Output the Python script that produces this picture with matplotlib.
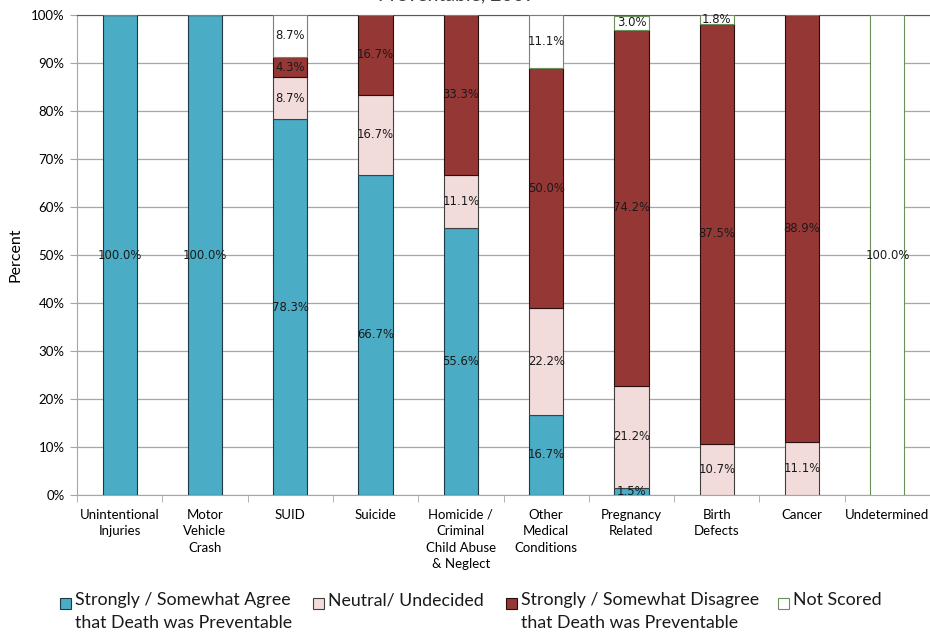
import matplotlib.pyplot as plt
import numpy as np
from matplotlib.ticker import FuncFormatter, FixedLocator
from matplotlib.patches import Rectangle

categories = ["Unintentional\nInjuries", "Motor\nVehicle\nCrash", "SUID", "Suicide",
              "Homicide /\nCriminal\nChild Abuse\n& Neglect", "Other\nMedical\nConditions",
              "Pregnancy\nRelated", "Birth\nDefects", "Cancer", "Undetermined"]
agree = [100.0, 100.0, 78.3, 66.7, 55.6, 16.7, 1.5, 0.0, 0.0, 0.0]
neutral = [0.0, 0.0, 8.7, 16.7, 11.1, 22.2, 21.2, 10.7, 11.1, 0.0]
disagree = [0.0, 0.0, 4.3, 16.7, 33.3, 50.0, 74.2, 87.5, 88.9, 0.0]
not_scored = [0.0, 0.0, 8.7, 0.0, 0.0, 11.1, 3.0, 1.8, 0.0, 100.0]

series_names = ["Strongly / Somewhat Agree\nthat Death was Preventable",
                "Neutral/ Undecided",
                "Strongly / Somewhat Disagree\nthat Death was Preventable",
                "Not Scored"]
face_colors = ["#4BACC6", "#F2DCDB", "#953735", "#FFFFFF"]
edge_colors = ["#1F3A44", "#404040", "#2A0F0F", "#6A8F5A"]

plt.rcParams['font.family'] = ['Lato', 'DejaVu Sans']

W, H = 930, 634
fig = plt.figure(figsize=(W / 100, H / 100), dpi=100)
ax = fig.add_axes([0.0828, 0.2192, 0.9172, 0.7571])

x = np.arange(len(categories))
bottom = np.zeros(len(categories))
for vals, fc, ec in zip([agree, neutral, disagree, not_scored], face_colors, edge_colors):
    vals = np.array(vals)
    ax.bar(x, vals, width=0.4, bottom=bottom, color=fc, edgecolor=ec, linewidth=0.8, zorder=3)
    for xi, b, v in zip(x, bottom, vals):
        if v > 0:
            ax.text(xi, b + v / 2, f"{v:.1f}%", ha='center', va='center', fontsize=8.4,
                    family='DejaVu Sans', color='#1a1a1a', zorder=4)
    bottom += vals

ax.set_xlim(-0.5, len(categories) - 0.5)
ax.set_ylim(0, 100)
ax.set_yticks(np.arange(0, 101, 10))
ax.yaxis.set_major_formatter(FuncFormatter(lambda v, p: f"{int(v)}%"))
ax.grid(axis='y', color='#A6A6A6', linewidth=0.9, zorder=0)
ax.set_axisbelow(True)

ax.set_xticks(x)
ax.set_xticklabels(categories, fontsize=9.5, linespacing=1.45, va='top')
ax.xaxis.set_minor_locator(FixedLocator(np.arange(-0.5, len(categories), 1.0)))
ax.tick_params(axis='x', which='major', length=0, pad=10)
ax.tick_params(axis='x', which='minor', length=5, color='#A6A6A6')
ax.tick_params(axis='y', length=5, color='#A6A6A6', labelsize=9.5, pad=4)

for s in ['left', 'bottom']:
    ax.spines[s].set_color('#A6A6A6')
ax.spines['top'].set_color('#595959')
ax.spines['right'].set_visible(False)

ax.set_ylabel("Percent", fontsize=11.5, labelpad=6)

# Chart title sits above the top edge of the canvas
fig.text(0.491, 0.9995, "Preventable, 2009", ha='center', va='baseline', fontsize=14, color='#404040')

# Legend drawn as a row of swatches with wrapped labels, first line aligned to the swatch
legend_x = [60, 313, 506, 778]
sw = 11
for lx, name, fc, ec in zip(legend_x, series_names, face_colors, edge_colors):
    fig.add_artist(Rectangle((lx / W, 1 - 609 / H), sw / W, sw / H, transform=fig.transFigure,
                             facecolor=fc, edgecolor=ec, linewidth=0.8))
    fig.text((lx + sw + 4) / W, 1 - 592 / H, name, ha='left', va='top', fontsize=12.8,
             linespacing=1.5, color='#1a1a1a')

fig.savefig("out.png", dpi=100)
